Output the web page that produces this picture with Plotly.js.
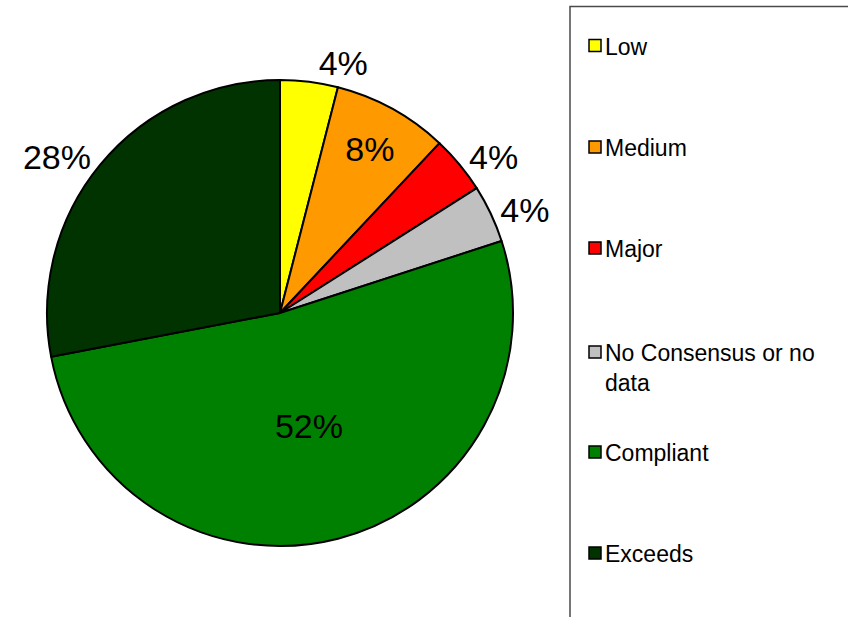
<!DOCTYPE html>
<html>
<head>
<meta charset="utf-8">
<script src="https://cdn.plot.ly/plotly-3.0.1.min.js"></script>
<style>html,body{margin:0;padding:0;background:#fff;}#chart{width:848px;height:617px;}</style>
</head>
<body>
<div id="chart"></div>
<script>
const categories = ["Low", "Medium", "Major", "No Consensus or no data", "Compliant", "Exceeds"];
const values = [4, 8, 4, 4, 52, 28];
const colors = ["#FFFF00", "#FF9900", "#FF0000", "#C0C0C0", "#008000", "#003300"];
const legendLabels = ["Low", "Medium", "Major", "No Consensus or no<br>data", "Compliant", "Exceeds"];
const textPositions = ["outside", "inside", "outside", "outside", "inside", "outside"];

const W = 848, H = 617;
const font = "Liberation Sans, Arial, sans-serif";

const trace = {
  type: "pie",
  labels: categories,
  values: values,
  sort: false,
  direction: "clockwise",
  rotation: 0,
  marker: { colors: colors, line: { color: "#000000", width: 2 } },
  textinfo: "percent",
  texttemplate: "%{percent:.0%}",
  textposition: textPositions,
  insidetextorientation: "horizontal",
  textfont: { family: font, size: 34, color: "#000000" },
  outsidetextfont: { family: font, size: 34, color: "#000000" },
  insidetextfont: { family: font, size: 34, color: "#000000" },
  showlegend: false,
  hoverinfo: "label+percent",
  domain: { x: [47 / W, 513 / W], y: [(H - 546) / H, (H - 80) / H] }
};

// Legend drawn as shapes + annotations (Excel-style spaced legend)
const shapes = [{
  type: "rect", xref: "paper", yref: "paper",
  x0: 570 / W, x1: 860 / W, y0: -0.05, y1: (H - 6.5) / H,
  line: { color: "#4a4a4a", width: 1.5 }, fillcolor: "rgba(0,0,0,0)"
}];
const annotations = [];
const rowY = [45.5, 147, 248, 352, 452, 553];
categories.forEach((c, i) => {
  const yc = rowY[i];
  shapes.push({
    type: "rect", xref: "paper", yref: "paper",
    x0: 589 / W, x1: 601 / W, y0: (H - yc - 6) / H, y1: (H - yc + 6) / H,
    fillcolor: colors[i], line: { color: "#000000", width: 1.5 }
  });
  annotations.push({
    xref: "paper", yref: "paper", x: 603 / W, y: (H - yc + 14) / H,
    xanchor: "left", yanchor: "top", align: "left", showarrow: false,
    text: legendLabels[i],
    font: { family: font, size: 23, color: "#000000" }
  });
});

const layout = {
  width: W, height: H,
  margin: { l: 0, r: 0, t: 0, b: 0 },
  paper_bgcolor: "#ffffff",
  plot_bgcolor: "#ffffff",
  showlegend: false,
  shapes: shapes,
  annotations: annotations,
  font: { family: font }
};

Plotly.newPlot("chart", [trace], layout, { displayModeBar: false, staticPlot: true });
</script>
</body>
</html>
